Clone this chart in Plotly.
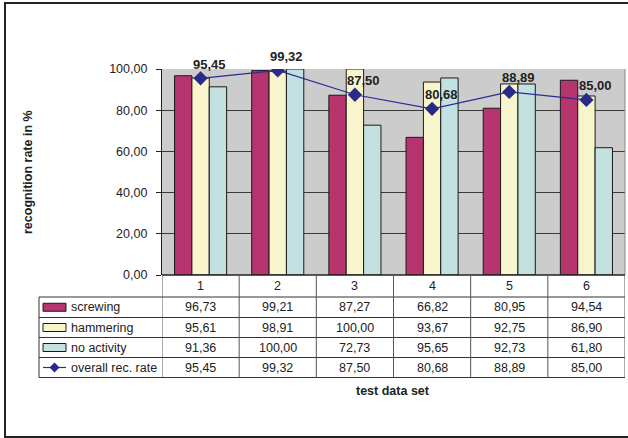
import plotly.graph_objects as go

# ---------------- data ----------------
categories = [1, 2, 3, 4, 5, 6]
cat_labels = ["1", "2", "3", "4", "5", "6"]
screwing = [96.73, 99.21, 87.27, 66.82, 80.95, 94.54]
hammering = [95.61, 98.91, 100.00, 93.67, 92.75, 86.90]
no_activity = [91.36, 100.00, 72.73, 95.65, 92.73, 61.80]
overall = [95.45, 99.32, 87.50, 80.68, 88.89, 85.00]
series_names = ["screwing", "hammering", "no activity", "overall rec. rate"]
y_title = "recognition rate in %"
x_title = "test data set"

# ---------------- style ----------------
W, H = 628, 438
L, R, T, B = 162, 625, 69, 275
PW, PH = R - L, B - T
C_SCREW = "#B6356F"
C_HAMMER = "#F8F4CC"
C_NOACT = "#C2E1E0"
C_LINE = "#2B2B95"
C_MARK = "#2A2A88"
FONT = "Liberation Sans, Arial, sans-serif"
TXT = "#222222"


def xp(px):
    return (px - L) / PW


def yp(py):
    return (B - py) / PH


def fmt(v):
    return f"{v:.2f}".replace(".", ",")


fig = go.Figure()
for name, vals, col in [
    (series_names[0], screwing, C_SCREW),
    (series_names[1], hammering, C_HAMMER),
    (series_names[2], no_activity, C_NOACT),
]:
    fig.add_trace(go.Bar(x=categories, y=vals, name=name, marker=dict(color=col, line=dict(color="#1a1a1a", width=1))))

fig.add_trace(go.Scatter(
    x=categories, y=overall, name=series_names[3], mode="lines+markers",
    line=dict(color=C_LINE, width=1.2),
    marker=dict(symbol="diamond", size=11, color=C_MARK),
))

annotations = []
# line labels
for c, v in zip(categories, overall):
    annotations.append(dict(x=c, y=v, xref="x", yref="y", text=f"<b>{fmt(v)}</b>", showarrow=False,
                            xanchor="center", yanchor="middle",
                            xshift=9, yshift=14, font=dict(family=FONT, size=13, color=TXT)))

# data table
row_lines = [275, 297, 317.5, 337.5, 357.5, 377.5]
row_centers = [(row_lines[i] + row_lines[i + 1]) / 2 for i in range(len(row_lines) - 1)]
for c, lab in zip(categories, cat_labels):
    annotations.append(dict(x=c, y=yp(row_centers[0]), xref="x", yref="paper", text=lab, showarrow=False,
                            xanchor="center", yanchor="middle",
                            font=dict(family=FONT, size=12.5, color=TXT)))
all_series = [screwing, hammering, no_activity, overall]
for r, vals in enumerate(all_series):
    for c, v in zip(categories, vals):
        annotations.append(dict(x=c, y=yp(row_centers[r + 1]), xref="x", yref="paper", text=fmt(v),
                                xanchor="center", yanchor="middle",
                                showarrow=False, font=dict(family=FONT, size=12.5, color=TXT)))
    annotations.append(dict(x=xp(69), y=yp(row_centers[r + 1]), xref="paper", yref="paper", text=series_names[r],
                            showarrow=False, xanchor="left", yanchor="middle",
                            font=dict(family=FONT, size=12.5, color=TXT)))

annotations.append(dict(x=xp(393), y=yp(391), xref="paper", yref="paper", text=f"<b>{x_title}</b>",
                        xanchor="center", yanchor="middle",
                        showarrow=False, font=dict(family=FONT, size=12.5, color=TXT)))
annotations.append(dict(x=xp(28), y=yp(172), xref="paper", yref="paper", text=f"<b>{y_title}</b>",
                        xanchor="center", yanchor="middle",
                        showarrow=False, textangle=-90, font=dict(family=FONT, size=12.5, color=TXT)))

shapes = []
LC = "#333333"
# plot area border (right side grey)
shapes.append(dict(type="line", xref="paper", yref="paper", x0=1, x1=1, y0=0, y1=1, line=dict(color="#888888", width=1)))
# table horizontal lines
shapes.append(dict(type="line", xref="paper", yref="paper", x0=0, x1=1, y0=yp(row_lines[0]), y1=yp(row_lines[0]),
                   line=dict(color="#222222", width=1.5)))
for y in row_lines[1:]:
    shapes.append(dict(type="line", xref="paper", yref="paper", x0=xp(39), x1=1, y0=yp(y), y1=yp(y),
                       line=dict(color=LC, width=1)))
# table vertical lines
shapes.append(dict(type="line", xref="paper", yref="paper", x0=xp(39), x1=xp(39), y0=yp(row_lines[1]), y1=yp(row_lines[-1]),
                   line=dict(color=LC, width=1)))
for k in range(len(categories) + 1):
    xb = categories[0] - 0.5 + k
    shapes.append(dict(type="line", xref="x", yref="paper", x0=xb, x1=xb, y0=yp(row_lines[0]), y1=yp(row_lines[-1]),
                       line=dict(color="#555555", width=1)))
# legend keys
for r, col in enumerate([C_SCREW, C_HAMMER, C_NOACT]):
    cy = row_centers[r + 1]
    shapes.append(dict(type="rect", xref="paper", yref="paper", x0=xp(43), x1=xp(66), y0=yp(cy + 4), y1=yp(cy - 4),
                       fillcolor=col, line=dict(color="#1a1a1a", width=1)))
cy = row_centers[4]
shapes.append(dict(type="line", xref="paper", yref="paper", x0=xp(43), x1=xp(66), y0=yp(cy), y1=yp(cy),
                   line=dict(color=C_LINE, width=1.2)))
dx, dy = 5, 5
path = (f"M {xp(54.5 - dx)} {yp(cy)} L {xp(54.5)} {yp(cy - dy)} L {xp(54.5 + dx)} {yp(cy)} "
        f"L {xp(54.5)} {yp(cy + dy)} Z")
shapes.append(dict(type="path", xref="paper", yref="paper", path=path, fillcolor=C_MARK, line=dict(color=C_MARK, width=0)))
# outer chart frame
shapes.append(dict(type="rect", xref="paper", yref="paper", x0=xp(5), x1=xp(660), y0=yp(437), y1=yp(3),
                   line=dict(color="#222222", width=2)))

fig.update_layout(
    width=W, height=H,
    margin=dict(l=L, r=W - R, t=T, b=H - B, pad=0),
    paper_bgcolor="white", plot_bgcolor="#CCCCCC",
    barmode="group", bargap=0.325, bargroupgap=0,
    showlegend=False,
    separators=", ",
    font=dict(family=FONT, size=12.5, color=TXT),
    annotations=annotations, shapes=shapes,
    xaxis=dict(range=[0.5, 6.5], showticklabels=False, showgrid=False, zeroline=False, ticks="", showline=False),
    yaxis=dict(range=[0, 100], dtick=20, tickformat=".2f", showgrid=True, gridcolor="#3a3a3a", gridwidth=1,
               zeroline=False, showline=True, linecolor="#222222", linewidth=1.2, ticks="outside", ticklen=5,
               tickcolor="#222222", ticklabelstandoff=6,
               tickfont=dict(family=FONT, size=12.5, color=TXT)),
)

fig.write_html("out.html")
